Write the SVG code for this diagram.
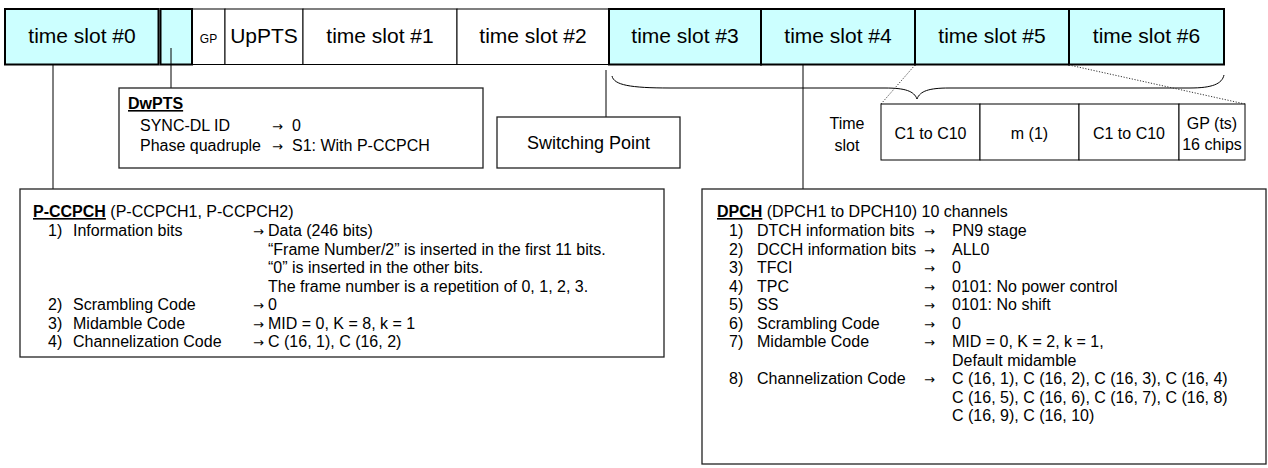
<svg xmlns="http://www.w3.org/2000/svg" width="1268" height="468" viewBox="0 0 1268 468">
<style>
text{font-family:"Liberation Sans",Arial,sans-serif;fill:#000}
.ts{font-size:21px;text-anchor:middle}
.b{font-size:16px}
.ar{font-family:"DejaVu Sans",sans-serif;font-size:13px}
.c{text-anchor:middle}
.hd{font-weight:bold;text-decoration:underline}
.cy{fill:#CCFFFF;stroke:#000;stroke-width:2}
.wh{fill:#fff;stroke:#000;stroke-width:1}
.box{fill:#fff;stroke:#222;stroke-width:1.3}
.ln{fill:none;stroke:#000;stroke-width:1}
.dot{fill:none;stroke:#333;stroke-width:1;stroke-dasharray:1.2 1.6}
</style>
<g id="frame">
<rect class="wh" x="192" y="9" width="33" height="55.5"/>
<rect class="wh" x="225" y="9" width="78" height="55.5"/>
<rect class="wh" x="303" y="9" width="154" height="55.5"/>
<rect class="wh" x="457" y="9" width="152" height="55.5"/>
<rect class="cy" x="5" y="9" width="153.5" height="55.5"/>
<rect class="cy" x="160.5" y="9" width="31.5" height="55.5"/>
<rect class="cy" x="609" y="9" width="152" height="55.5"/>
<rect class="cy" x="761" y="9" width="154" height="55.5"/>
<rect class="cy" x="915" y="9" width="154" height="55.5"/>
<rect class="cy" x="1069" y="9" width="155" height="55.5"/>
<text class="ts" x="82" y="43">time slot #0</text>
<text x="208.5" y="43" font-size="12" text-anchor="middle">GP</text>
<text class="ts" x="264" y="43">UpPTS</text>
<text class="ts" x="380" y="43">time slot #1</text>
<text class="ts" x="533" y="43">time slot #2</text>
<text class="ts" x="685" y="43">time slot #3</text>
<text class="ts" x="838" y="43">time slot #4</text>
<text class="ts" x="992" y="43">time slot #5</text>
<text class="ts" x="1146.5" y="43">time slot #6</text>
</g>
<g id="connectors">
<line class="ln" x1="53" y1="65" x2="53" y2="189"/>
<line class="ln" x1="171" y1="48" x2="171" y2="88"/>
<line class="ln" x1="606" y1="70" x2="606" y2="117"/>
<line class="ln" x1="803" y1="65" x2="803" y2="189"/>
<path class="ln" d="M612,76 C614,85 630,88 670,88 L885,88 C905,88 914,91 917,99 C920,91 929,88 949,88 L1190,88 C1212,88 1222,84 1224,75"/>
<line class="dot" x1="881" y1="104" x2="915" y2="65"/>
<line class="dot" x1="1245" y1="104" x2="1069" y2="65"/>
</g>
<g id="dwpts">
<rect class="box" x="119" y="88" width="364" height="80"/>
<text class="b" x="128" y="109"><tspan class="hd">DwPTS</tspan></text>
<text class="b" x="140" y="131">SYNC-DL ID</text>
<text class="ar" x="272" y="131">→</text>
<text class="b" x="292" y="131">0</text>
<text class="b" x="140" y="151">Phase quadruple</text>
<text class="ar" x="272" y="151">→</text>
<text class="b" x="292" y="151">S1: With P-CCPCH</text>
</g>
<g id="switching-point">
<rect class="box" x="497" y="117" width="183" height="51"/>
<text x="588.5" y="149" font-size="18" text-anchor="middle">Switching Point</text>
</g>
<g id="timeslot-detail">
<text class="b c" x="847" y="128.5">Time</text>
<text class="b c" x="847" y="151">slot</text>
<rect class="wh" x="881" y="104" width="99" height="56"/>
<rect class="wh" x="980" y="104" width="99" height="56"/>
<rect class="wh" x="1079" y="104" width="100" height="56"/>
<rect class="wh" x="1179" y="104" width="66" height="56"/>
<text class="b c" x="930.5" y="138.5">C1 to C10</text>
<text class="b c" x="1029.5" y="138.5">m (1)</text>
<text class="b c" x="1129" y="138.5">C1 to C10</text>
<text class="b c" x="1212" y="129">GP (ts)</text>
<text class="b c" x="1212" y="150">16 chips</text>
</g>
<g id="pccpch">
<rect class="box" x="20" y="189" width="644" height="168"/>
<text class="b" x="33" y="217"><tspan class="hd">P-CCPCH</tspan> (P-CCPCH1, P-CCPCH2)</text>
<text class="b" x="48" y="236">1)</text><text class="b" x="73" y="236">Information bits</text><text class="ar" x="253" y="236">→</text><text class="b" x="268" y="236">Data (246 bits)</text>
<text class="b" x="268" y="254.5">“Frame Number/2” is inserted in the first 11 bits.</text>
<text class="b" x="268" y="273">“0” is inserted in the other bits.</text>
<text class="b" x="268" y="291.5">The frame number is a repetition of 0, 1, 2, 3.</text>
<text class="b" x="48" y="310">2)</text><text class="b" x="73" y="310">Scrambling Code</text><text class="ar" x="253" y="310">→</text><text class="b" x="268" y="310">0</text>
<text class="b" x="48" y="328.5">3)</text><text class="b" x="73" y="328.5">Midamble Code</text><text class="ar" x="253" y="328.5">→</text><text class="b" x="268" y="328.5">MID = 0, K = 8, k = 1</text>
<text class="b" x="48" y="347">4)</text><text class="b" x="73" y="347">Channelization Code</text><text class="ar" x="253" y="347">→</text><text class="b" x="268" y="347">C (16, 1), C (16, 2)</text>
</g>
<g id="dpch">
<rect class="box" x="702" y="189" width="564" height="275"/>
<text class="b" x="717" y="217"><tspan class="hd">DPCH</tspan> (DPCH1 to DPCH10) 10 channels</text>
<text class="b" x="729" y="236">1)</text><text class="b" x="757" y="236">DTCH information bits</text><text class="ar" x="924" y="236">→</text><text class="b" x="952" y="236">PN9 stage</text>
<text class="b" x="729" y="254.5">2)</text><text class="b" x="757" y="254.5">DCCH information bits</text><text class="ar" x="924" y="254.5">→</text><text class="b" x="952" y="254.5">ALL0</text>
<text class="b" x="729" y="273">3)</text><text class="b" x="757" y="273">TFCI</text><text class="ar" x="924" y="273">→</text><text class="b" x="952" y="273">0</text>
<text class="b" x="729" y="291.5">4)</text><text class="b" x="757" y="291.5">TPC</text><text class="ar" x="924" y="291.5">→</text><text class="b" x="952" y="291.5">0101: No power control</text>
<text class="b" x="729" y="310">5)</text><text class="b" x="757" y="310">SS</text><text class="ar" x="924" y="310">→</text><text class="b" x="952" y="310">0101: No shift</text>
<text class="b" x="729" y="328.5">6)</text><text class="b" x="757" y="328.5">Scrambling Code</text><text class="ar" x="924" y="328.5">→</text><text class="b" x="952" y="328.5">0</text>
<text class="b" x="729" y="347">7)</text><text class="b" x="757" y="347">Midamble Code</text><text class="ar" x="924" y="347">→</text><text class="b" x="952" y="347">MID = 0, K = 2, k = 1,</text>
<text class="b" x="952" y="365.5">Default midamble</text>
<text class="b" x="729" y="384">8)</text><text class="b" x="757" y="384">Channelization Code</text><text class="ar" x="924" y="384">→</text><text class="b" x="952" y="384">C (16, 1), C (16, 2), C (16, 3), C (16, 4)</text>
<text class="b" x="952" y="402.5">C (16, 5), C (16, 6), C (16, 7), C (16, 8)</text>
<text class="b" x="952" y="421">C (16, 9), C (16, 10)</text>
</g>
</svg>
